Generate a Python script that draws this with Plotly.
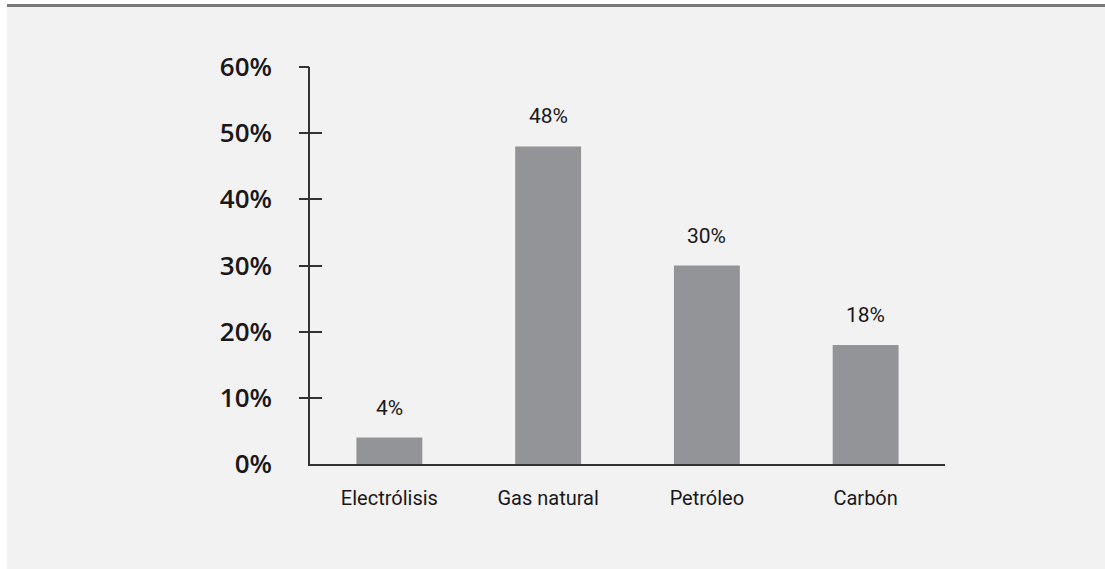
"""Hydrogen production share by source, bar chart."""

import plotly.graph_objects as go

CATEGORIES = ["Electrólisis", "Gas natural", "Petróleo", "Carbón"]
SHARES = [4, 48, 30, 18]
LABELS = ["4%", "48%", "30%", "18%"]
Y_TICKS = [0, 10, 20, 30, 40, 50, 60]
Y_TICK_TEXT = ["0%", "10%", "20%", "30%", "40%", "50%", "60%"]

W, H = 1105, 569
L, R, T, B = 310, 160, 67, 105
PW, PH = W - L - R, H - T - B


def px_x(x):
    return (x - L) / PW


def px_y(y):
    return (H - B - y) / PH


BAR = "#939497"
INK = "#1a1718"
AXIS = "#333333"
NARROW = "Roboto, sans-serif"

fig = go.Figure()
fig.add_trace(go.Bar(
    x=CATEGORIES, y=SHARES, width=0.415,
    marker=dict(color=BAR, line=dict(width=0)),
    hoverinfo="skip", showlegend=False,
))
# invisible traces to anchor the extra tick axes
fig.add_trace(go.Scatter(x=CATEGORIES[:1], y=[0], yaxis="y2", mode="markers",
                         marker=dict(opacity=0), showlegend=False, hoverinfo="skip"))
fig.add_trace(go.Scatter(x=CATEGORIES[:1], y=[0], yaxis="y3", mode="markers",
                         marker=dict(opacity=0), showlegend=False, hoverinfo="skip"))

for cat, val, lab in zip(CATEGORIES, SHARES, LABELS):
    fig.add_annotation(x=cat, y=val, text=lab, showarrow=False, yanchor="bottom",
                       yshift=16, font=dict(family=NARROW, size=21, color=INK))

tick_only = dict(range=[0, 60], overlaying="y", tickvals=Y_TICKS[1:], showticklabels=False,
                 showgrid=False, zeroline=False, showline=False, tickcolor=AXIS, tickwidth=1.5)

fig.update_layout(
    width=W, height=H,
    margin=dict(l=L, r=R, t=T, b=B, pad=0),
    paper_bgcolor="white",
    plot_bgcolor="rgba(0,0,0,0)",
    bargap=0.585,
    xaxis=dict(
        range=[-0.5, 3.5], showgrid=False, zeroline=False,
        showline=True, linecolor=AXIS, linewidth=1.5,
        ticks="outside", ticklen=15, tickcolor="rgba(0,0,0,0)",
        tickfont=dict(family=NARROW, size=20, color=INK),
    ),
    yaxis=dict(
        range=[0, 60], tickvals=Y_TICKS, ticktext=Y_TICK_TEXT,
        showgrid=False, zeroline=False,
        showline=True, linecolor=AXIS, linewidth=1.5,
        ticks="outside", ticklen=31, tickcolor="rgba(0,0,0,0)",
        tickfont=dict(family="Open Sans", size=26, color=INK, weight=600),
    ),
    yaxis2=dict(ticks="outside", ticklen=10, **tick_only),
    yaxis3=dict(ticks="inside", ticklen=12, **tick_only),
    shapes=[
        dict(type="rect", xref="paper", yref="paper", layer="below",
             x0=px_x(7), x1=px_x(W), y0=px_y(H), y1=px_y(7),
             fillcolor="#f2f2f2", line=dict(width=0)),
        dict(type="line", xref="paper", yref="paper",
             x0=px_x(7), x1=px_x(W), y0=px_y(5.5), y1=px_y(5.5),
             line=dict(color="#7a7a7a", width=3)),
    ],
)

# page body margin would shift the figure by 8px
fig.write_html("out.html", config={"displayModeBar": False},
               post_script="document.body.style.margin='0';")
